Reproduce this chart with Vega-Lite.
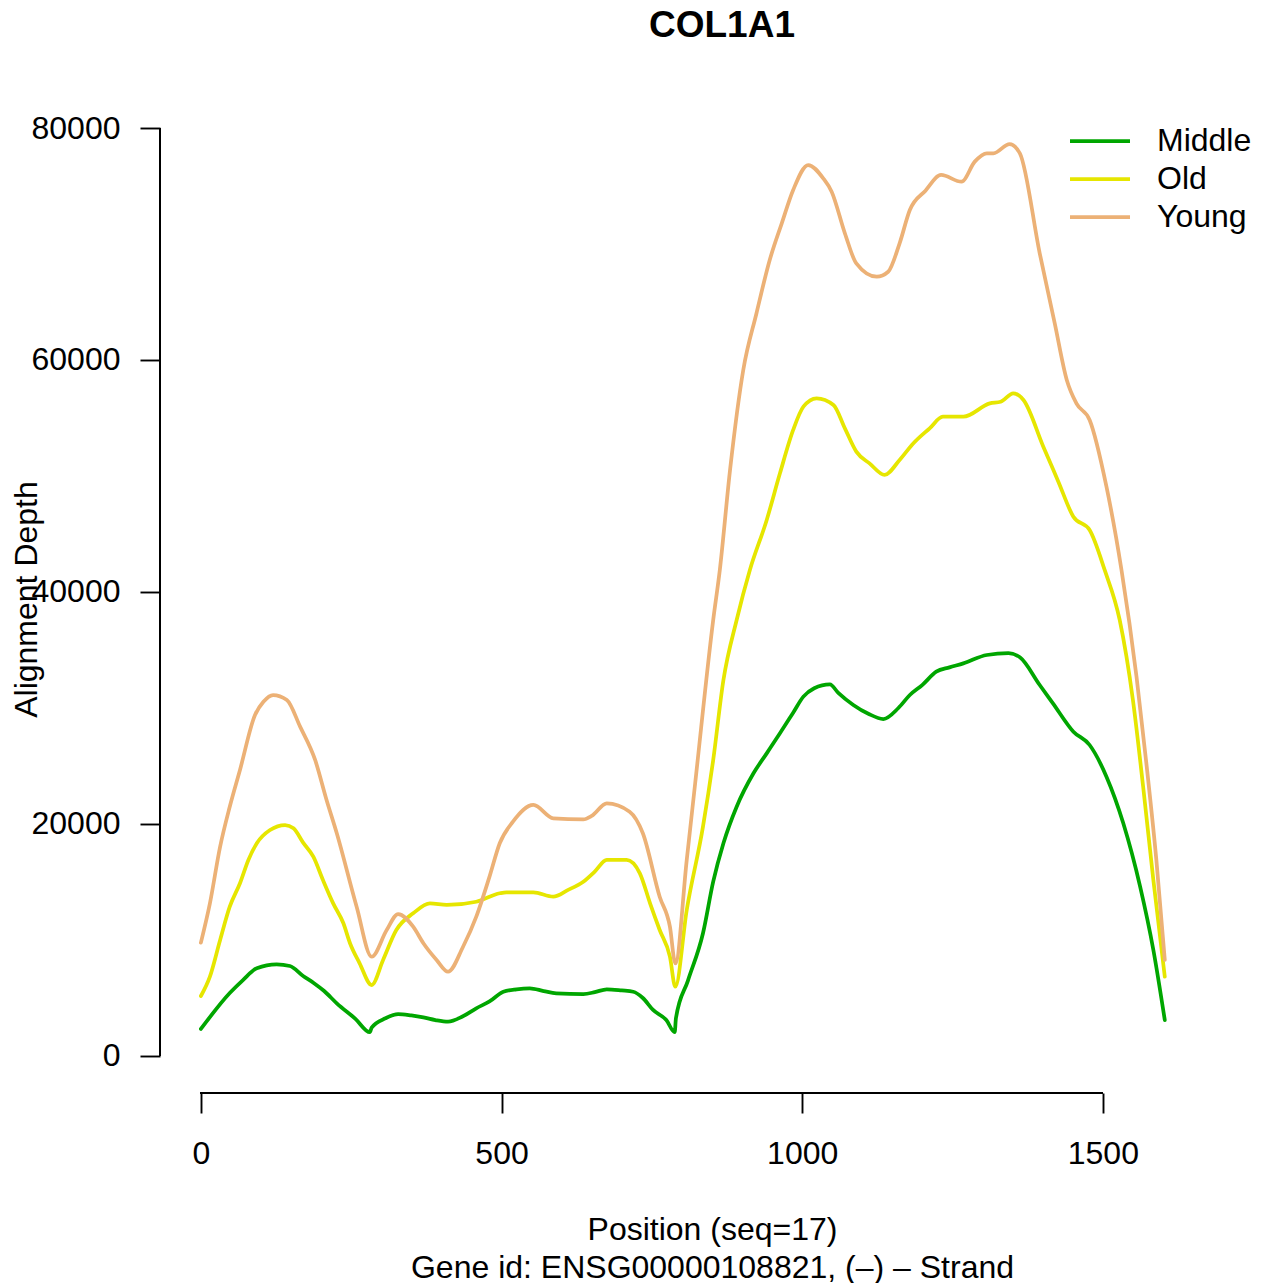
{
  "$schema": "https://vega.github.io/schema/vega-lite/v6.json",
  "width": 1104,
  "height": 984,
  "autosize": {"type": "none"},
  "padding": {"left": 160, "top": 109, "right": 5, "bottom": 190},
  "background": "white",
  "config": {"view": {"stroke": null}, "font": "Liberation Sans"},
  "title": {"text": "COL1A1", "font": "Liberation Sans", "fontSize": 37, "fontWeight": "bold", "color": "black", "anchor": "middle", "frame": "group", "baseline": "alphabetic", "offset": 35, "dx": 10},
  "datasets": {
    "depth": [
      {"group":"Middle","pos":0,"depth":2330},{"group":"Middle","pos":48,"depth":5430},{"group":"Middle","pos":70,"depth":6550},{"group":"Middle","pos":93,"depth":7560},{"group":"Middle","pos":126,"depth":7905},{"group":"Middle","pos":148,"depth":7760},{"group":"Middle","pos":170,"depth":6900},{"group":"Middle","pos":187,"depth":6320},{"group":"Middle","pos":205,"depth":5600},{"group":"Middle","pos":226,"depth":4540},{"group":"Middle","pos":257,"depth":3200},{"group":"Middle","pos":281,"depth":2050},{"group":"Middle","pos":284,"depth":2450},{"group":"Middle","pos":307,"depth":3250},{"group":"Middle","pos":328,"depth":3620},{"group":"Middle","pos":350,"depth":3500},{"group":"Middle","pos":370,"depth":3330},{"group":"Middle","pos":390,"depth":3100},{"group":"Middle","pos":411,"depth":2960},{"group":"Middle","pos":435,"depth":3400},{"group":"Middle","pos":458,"depth":4110},{"group":"Middle","pos":480,"depth":4700},{"group":"Middle","pos":503,"depth":5540},{"group":"Middle","pos":525,"depth":5750},{"group":"Middle","pos":547,"depth":5830},{"group":"Middle","pos":570,"depth":5600},{"group":"Middle","pos":591,"depth":5400},{"group":"Middle","pos":636,"depth":5340},{"group":"Middle","pos":655,"depth":5500},{"group":"Middle","pos":675,"depth":5750},{"group":"Middle","pos":700,"depth":5650},{"group":"Middle","pos":719,"depth":5540},{"group":"Middle","pos":735,"depth":5000},{"group":"Middle","pos":752,"depth":3970},{"group":"Middle","pos":774,"depth":3100},{"group":"Middle","pos":788,"depth":2050},{"group":"Middle","pos":790,"depth":3250},{"group":"Middle","pos":810,"depth":6500},{"group":"Middle","pos":835,"depth":10580},{"group":"Middle","pos":852,"depth":15030},{"group":"Middle","pos":869,"depth":18340},{"group":"Middle","pos":891,"depth":21490},{"group":"Middle","pos":919,"depth":24370},{"group":"Middle","pos":941,"depth":26090},{"group":"Middle","pos":963,"depth":27820},{"group":"Middle","pos":985,"depth":29600},{"group":"Middle","pos":1002,"depth":30980},{"group":"Middle","pos":1020,"depth":31700},{"group":"Middle","pos":1046,"depth":32040},{"group":"Middle","pos":1060,"depth":31300},{"group":"Middle","pos":1085,"depth":30260},{"group":"Middle","pos":1110,"depth":29500},{"group":"Middle","pos":1135,"depth":29050},{"group":"Middle","pos":1160,"depth":30000},{"group":"Middle","pos":1179,"depth":31120},{"group":"Middle","pos":1200,"depth":32000},{"group":"Middle","pos":1223,"depth":33130},{"group":"Middle","pos":1245,"depth":33500},{"group":"Middle","pos":1268,"depth":33850},{"group":"Middle","pos":1307,"depth":34570},{"group":"Middle","pos":1343,"depth":34720},{"group":"Middle","pos":1362,"depth":34370},{"group":"Middle","pos":1395,"depth":31980},{"group":"Middle","pos":1417,"depth":30400},{"group":"Middle","pos":1451,"depth":27960},{"group":"Middle","pos":1478,"depth":26810},{"group":"Middle","pos":1506,"depth":24080},{"group":"Middle","pos":1534,"depth":20060},{"group":"Middle","pos":1562,"depth":14600},{"group":"Middle","pos":1584,"depth":9140},{"group":"Middle","pos":1603,"depth":3100},
      {"group":"Old","pos":0,"depth":5170},{"group":"Old","pos":15,"depth":6840},{"group":"Old","pos":32,"depth":10000},{"group":"Old","pos":48,"depth":12870},{"group":"Old","pos":65,"depth":14890},{"group":"Old","pos":79,"depth":16900},{"group":"Old","pos":93,"depth":18340},{"group":"Old","pos":115,"depth":19480},{"group":"Old","pos":140,"depth":19910},{"group":"Old","pos":154,"depth":19630},{"group":"Old","pos":170,"depth":18390},{"group":"Old","pos":187,"depth":17180},{"group":"Old","pos":203,"depth":15170},{"group":"Old","pos":220,"depth":13160},{"group":"Old","pos":237,"depth":11440},{"group":"Old","pos":248,"depth":9720},{"group":"Old","pos":264,"depth":7990},{"group":"Old","pos":284,"depth":6120},{"group":"Old","pos":303,"depth":8280},{"group":"Old","pos":325,"depth":10860},{"group":"Old","pos":353,"depth":12300},{"group":"Old","pos":381,"depth":13160},{"group":"Old","pos":409,"depth":13020},{"group":"Old","pos":458,"depth":13300},{"group":"Old","pos":497,"depth":14030},{"group":"Old","pos":508,"depth":14110},{"group":"Old","pos":553,"depth":14110},{"group":"Old","pos":586,"depth":13740},{"group":"Old","pos":610,"depth":14300},{"group":"Old","pos":636,"depth":15030},{"group":"Old","pos":655,"depth":15900},{"group":"Old","pos":675,"depth":16900},{"group":"Old","pos":708,"depth":16900},{"group":"Old","pos":730,"depth":15750},{"group":"Old","pos":747,"depth":13160},{"group":"Old","pos":763,"depth":10860},{"group":"Old","pos":780,"depth":8560},{"group":"Old","pos":789,"depth":5970},{"group":"Old","pos":808,"depth":12590},{"group":"Old","pos":835,"depth":19770},{"group":"Old","pos":852,"depth":25520},{"group":"Old","pos":869,"depth":32410},{"group":"Old","pos":891,"depth":37590},{"group":"Old","pos":913,"depth":41900},{"group":"Old","pos":941,"depth":46210},{"group":"Old","pos":963,"depth":50230},{"group":"Old","pos":985,"depth":53970},{"group":"Old","pos":1002,"depth":55980},{"group":"Old","pos":1024,"depth":56700},{"group":"Old","pos":1052,"depth":56120},{"group":"Old","pos":1071,"depth":54110},{"group":"Old","pos":1090,"depth":52100},{"group":"Old","pos":1112,"depth":51090},{"group":"Old","pos":1137,"depth":50090},{"group":"Old","pos":1162,"depth":51380},{"group":"Old","pos":1185,"depth":52820},{"group":"Old","pos":1212,"depth":54110},{"group":"Old","pos":1234,"depth":55110},{"group":"Old","pos":1268,"depth":55110},{"group":"Old","pos":1312,"depth":56260},{"group":"Old","pos":1330,"depth":56400},{"group":"Old","pos":1351,"depth":57130},{"group":"Old","pos":1368,"depth":56550},{"group":"Old","pos":1401,"depth":52530},{"group":"Old","pos":1426,"depth":49510},{"group":"Old","pos":1451,"depth":46490},{"group":"Old","pos":1478,"depth":45340},{"group":"Old","pos":1503,"depth":41900},{"group":"Old","pos":1528,"depth":37590},{"group":"Old","pos":1550,"depth":30690},{"group":"Old","pos":1567,"depth":23220},{"group":"Old","pos":1584,"depth":15170},{"group":"Old","pos":1603,"depth":6840},
      {"group":"Young","pos":0,"depth":9770},{"group":"Young","pos":15,"depth":13160},{"group":"Young","pos":32,"depth":18050},{"group":"Young","pos":48,"depth":21490},{"group":"Young","pos":65,"depth":24660},{"group":"Young","pos":90,"depth":29400},{"group":"Young","pos":104,"depth":30540},{"group":"Young","pos":120,"depth":31120},{"group":"Young","pos":143,"depth":30690},{"group":"Young","pos":165,"depth":28390},{"group":"Young","pos":190,"depth":25520},{"group":"Young","pos":209,"depth":22070},{"group":"Young","pos":226,"depth":19200},{"group":"Young","pos":259,"depth":12870},{"group":"Young","pos":284,"depth":8560},{"group":"Young","pos":309,"depth":10860},{"group":"Young","pos":328,"depth":12240},{"group":"Young","pos":353,"depth":11150},{"group":"Young","pos":370,"depth":9720},{"group":"Young","pos":392,"depth":8280},{"group":"Young","pos":411,"depth":7270},{"group":"Young","pos":436,"depth":9420},{"group":"Young","pos":458,"depth":12010},{"group":"Young","pos":480,"depth":15460},{"group":"Young","pos":497,"depth":18340},{"group":"Young","pos":519,"depth":20200},{"group":"Young","pos":553,"depth":21640},{"group":"Young","pos":586,"depth":20490},{"group":"Young","pos":636,"depth":20400},{"group":"Young","pos":650,"depth":20700},{"group":"Young","pos":675,"depth":21780},{"group":"Young","pos":713,"depth":21060},{"group":"Young","pos":735,"depth":19200},{"group":"Young","pos":763,"depth":13730},{"group":"Young","pos":780,"depth":11150},{"group":"Young","pos":789,"depth":7990},{"group":"Young","pos":808,"depth":16900},{"group":"Young","pos":822,"depth":23500},{"group":"Young","pos":852,"depth":37590},{"group":"Young","pos":863,"depth":41900},{"group":"Young","pos":880,"depth":50520},{"group":"Young","pos":902,"depth":59140},{"group":"Young","pos":924,"depth":64030},{"group":"Young","pos":946,"depth":68620},{"group":"Young","pos":966,"depth":71780},{"group":"Young","pos":985,"depth":74660},{"group":"Young","pos":1010,"depth":76810},{"group":"Young","pos":1035,"depth":75660},{"group":"Young","pos":1049,"depth":74510},{"group":"Young","pos":1071,"depth":70920},{"group":"Young","pos":1090,"depth":68330},{"group":"Young","pos":1124,"depth":67180},{"group":"Young","pos":1143,"depth":67610},{"group":"Young","pos":1162,"depth":70060},{"group":"Young","pos":1179,"depth":72930},{"group":"Young","pos":1205,"depth":74600},{"group":"Young","pos":1231,"depth":75950},{"group":"Young","pos":1265,"depth":75370},{"group":"Young","pos":1287,"depth":77100},{"group":"Young","pos":1307,"depth":77820},{"group":"Young","pos":1318,"depth":77820},{"group":"Young","pos":1345,"depth":78620},{"group":"Young","pos":1362,"depth":77820},{"group":"Young","pos":1395,"depth":69200},{"group":"Young","pos":1420,"depth":63160},{"group":"Young","pos":1440,"depth":58280},{"group":"Young","pos":1456,"depth":56260},{"group":"Young","pos":1478,"depth":54830},{"group":"Young","pos":1506,"depth":49080},{"group":"Young","pos":1531,"depth":41900},{"group":"Young","pos":1556,"depth":32700},{"group":"Young","pos":1573,"depth":24940},{"group":"Young","pos":1589,"depth":16900},{"group":"Young","pos":1603,"depth":8280}
    ]
  },
  "data": {"name": "depth"},
  "layer": [
    {
      "mark": {"type": "line", "strokeWidth": 3.75, "interpolate": "monotone", "strokeCap": "round", "strokeJoin": "round"},
      "encoding": {
        "x": {"field": "pos", "type": "quantitative",
          "scale": {"domain": [-68, 1768], "nice": false, "zero": false},
          "axis": {"values": [0, 500, 1000, 1500], "format": "d", "domain": false, "grid": false, "tickSize": 20, "tickWidth": 1.9, "tickColor": "black", "labelFontSize": 32, "labelColor": "black", "labelFont": "Liberation Sans", "labelPadding": 25, "labelFlush": false, "labelOverlap": false,
            "title": ["Position (seq=17)", "Gene id: ENSG00000108821, (\u2013) \u2013 Strand"], "titleFont": "Liberation Sans", "titleFontSize": 32, "titleFontWeight": "normal", "titleColor": "black", "titleLineHeight": 38, "titleBaseline": "alphabetic", "titleY": 146}},
        "y": {"field": "depth", "type": "quantitative",
          "scale": {"domain": [-3190, 81638], "nice": false, "zero": false},
          "axis": {"values": [0, 20000, 40000, 60000, 80000], "format": "d", "domain": false, "grid": false, "tickSize": 20, "tickWidth": 1.9, "tickColor": "black", "labelFontSize": 32, "labelColor": "black", "labelFont": "Liberation Sans", "labelPadding": 20, "labelFlush": false, "labelOverlap": false,
            "title": "Alignment Depth", "titleFont": "Liberation Sans", "titleFontSize": 32, "titleFontWeight": "normal", "titleColor": "black", "titleBaseline": "alphabetic", "titleX": -124, "titleY": 490}},
        "color": {"field": "group", "type": "nominal",
          "scale": {"domain": ["Middle", "Old", "Young"], "range": ["#00A600", "#E6E600", "#ECB176"]},
          "legend": {"title": null, "orient": "none", "legendX": 908, "legendY": 13, "symbolType": "stroke", "symbolSize": 3600, "symbolStrokeWidth": 3.75, "labelFontSize": 32, "labelColor": "black", "labelFont": "Liberation Sans", "labelOffset": 25, "rowPadding": 0, "clipHeight": 38, "padding": 0}}
      }
    },
    {
      "mark": {"type": "rule", "color": "black", "strokeWidth": 1.9},
      "encoding": {"x": {"datum": 0}, "x2": {"datum": 1500}, "y": {"value": "height"}}
    },
    {
      "mark": {"type": "rule", "color": "black", "strokeWidth": 1.9},
      "encoding": {"x": {"value": 0}, "y": {"datum": 0}, "y2": {"datum": 80000}}
    }
  ]
}
